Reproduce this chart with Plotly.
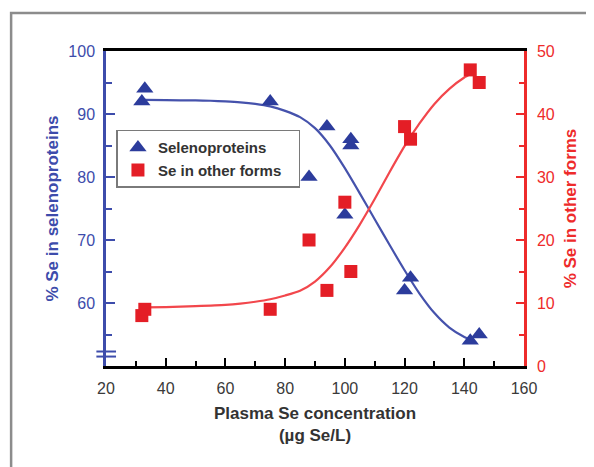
import plotly.graph_objects as go

# ---- data ----
sel_x = [32, 33, 75, 88, 94, 100, 102, 102, 120, 122, 142, 145]
sel_y = [92, 94, 92, 80, 88, 74, 85, 86, 62, 64, 54, 55]

oth_x = [32, 33, 75, 88, 94, 100, 102, 120, 122, 142, 145]
oth_y = [8, 9, 9, 20, 12, 26, 15, 38, 36, 47, 45]

# fitted curves, points
sel_fit_x = [33, 40, 50, 55, 60, 65, 70, 75, 80, 85, 90, 95, 100, 105, 110, 115, 120, 125, 130, 135, 140, 142]
sel_fit_y = [92.25, 92.2, 92.15, 92.1, 92.0, 91.85, 91.6, 91.2, 90.5, 89.5, 87.75, 85.0, 81.4, 77.4,
             73.3, 69.2, 65.2, 61.5, 58.4, 56.1, 54.6, 54.2]

oth_fit_x = [33, 40, 50, 60, 65, 70, 75, 80, 85, 90, 95, 100, 105, 110, 115, 120, 125, 130, 135, 140, 142]
oth_fit_y = [9.3, 9.35, 9.5, 9.7, 9.9, 10.2, 10.6, 11.2, 11.95, 13.4, 15.7, 18.8, 22.45, 26.5,
             30.8, 34.9, 38.5, 41.6, 44.0, 45.8, 46.3]

x_ticks = [20, 40, 60, 80, 100, 120, 140, 160]
left_ticks = [60, 70, 80, 90, 100]
left_minor = [55, 65, 75, 85, 95]
right_ticks = [0, 10, 20, 30, 40, 50]
axis_break = [51.5, 52.3]

BLUE_AX = "#3d4cab"
BLUE_MK = "#2c3c9c"
BLUE_LN = "#4552ac"
RED_AX = "#ee2b2b"
RED_MK = "#e41e26"
RED_LN = "#f2474c"
FONT = "Liberation Sans, Arial, Helvetica, sans-serif"

fig = go.Figure()

fig.add_trace(go.Scatter(x=sel_fit_x, y=sel_fit_y, mode="lines",
                         line=dict(color=BLUE_LN, width=2.2, shape="spline", smoothing=0.6),
                         showlegend=False, hoverinfo="skip"))
fig.add_trace(go.Scatter(x=oth_fit_x, y=oth_fit_y, mode="lines", yaxis="y2",
                         line=dict(color=RED_LN, width=2.2, shape="spline", smoothing=0.6),
                         showlegend=False, hoverinfo="skip"))

fig.add_trace(go.Scatter(x=sel_x, y=sel_y, mode="markers", name="<b>Selenoproteins</b>",
                         marker=dict(symbol="triangle-up", size=15, color=BLUE_MK,
                                     line=dict(width=0))))
fig.add_trace(go.Scatter(x=oth_x, y=oth_y, mode="markers",
                         name="<b>Se in other forms</b>&nbsp;&nbsp;&nbsp;",
                         yaxis="y2",
                         marker=dict(symbol="square", size=13, color=RED_MK,
                                     line=dict(width=0))))

# page body has an 8px margin, so the figure is 8px smaller and margins shifted
fig.update_layout(
    width=586, height=459,
    margin=dict(l=97.5, r=70, t=43, b=101),
    paper_bgcolor="white", plot_bgcolor="white",
    font=dict(family=FONT, size=16, color="#333333"),
    xaxis=dict(
        range=[20, 160], tickvals=x_ticks, ticks="inside", ticklen=8, tickwidth=2,
        tickcolor="black", showline=True, linecolor="black", linewidth=2.5,
        mirror=True, showgrid=False, zeroline=False,
        minor=dict(dtick=10, tick0=20, ticks="inside", ticklen=5, tickwidth=2,
                   tickcolor="black", showgrid=False),
        tickfont=dict(size=16, color="#3a3a3a"),
        ticklabelstandoff=6,
        title=dict(text="<b>Plasma Se concentration<br>(µg Se/L)</b>",
                   font=dict(size=17, color="#333333"), standoff=12),
    ),
    yaxis=dict(
        range=[50, 100], tickvals=left_ticks, ticks="inside", ticklen=9, tickwidth=2,
        tickcolor=BLUE_AX, showline=True, linecolor=BLUE_AX, linewidth=2.5,
        showgrid=False, zeroline=False,
        minor=dict(tickvals=left_minor, ticks="inside", ticklen=6, tickwidth=2,
                   tickcolor=BLUE_AX, showgrid=False),
        tickfont=dict(size=16, color=BLUE_AX),
        ticklabelstandoff=5,
        title=dict(text="<b>% Se in selenoproteins</b>",
                   font=dict(size=17, color=BLUE_AX), standoff=6),
    ),
    yaxis2=dict(
        range=[0, 50], tickvals=right_ticks, overlaying="y", side="right",
        ticks="inside", ticklen=8, tickwidth=2, tickcolor=RED_AX,
        showline=True, linecolor=RED_AX, linewidth=2.5,
        showgrid=False, zeroline=False,
        minor=dict(dtick=5, tick0=0, ticks="inside", ticklen=5, tickwidth=2,
                   tickcolor=RED_AX, showgrid=False),
        tickfont=dict(size=16, color=RED_AX),
        ticklabelstandoff=7,
        title=dict(text="<b>% Se in other forms</b>",
                   font=dict(size=17, color=RED_AX), standoff=11),
    ),
    legend=dict(
        x=0.025, y=0.75, xanchor="left", yanchor="top",
        bgcolor="white", bordercolor="#7a7a7a", borderwidth=1.5,
        font=dict(size=15, color="#333333", family=FONT),
        itemwidth=30, tracegroupgap=0,
    ),
    showlegend=True,
)

# axis-break marks on left axis
for yb in axis_break:
    fig.add_shape(type="line", xref="paper", yref="y", x0=-0.023, x1=0.024, y0=yb, y1=yb,
                  line=dict(color=BLUE_AX, width=2))

# outer grey frame (top and left edges)
fig.add_shape(type="path", xref="paper", yref="paper",
              path="M -0.227,-0.33 L -0.227,1.121 L 1.2,1.121",
              line=dict(color="#8c8c8c", width=2.5))

fig.write_html("out.html")
